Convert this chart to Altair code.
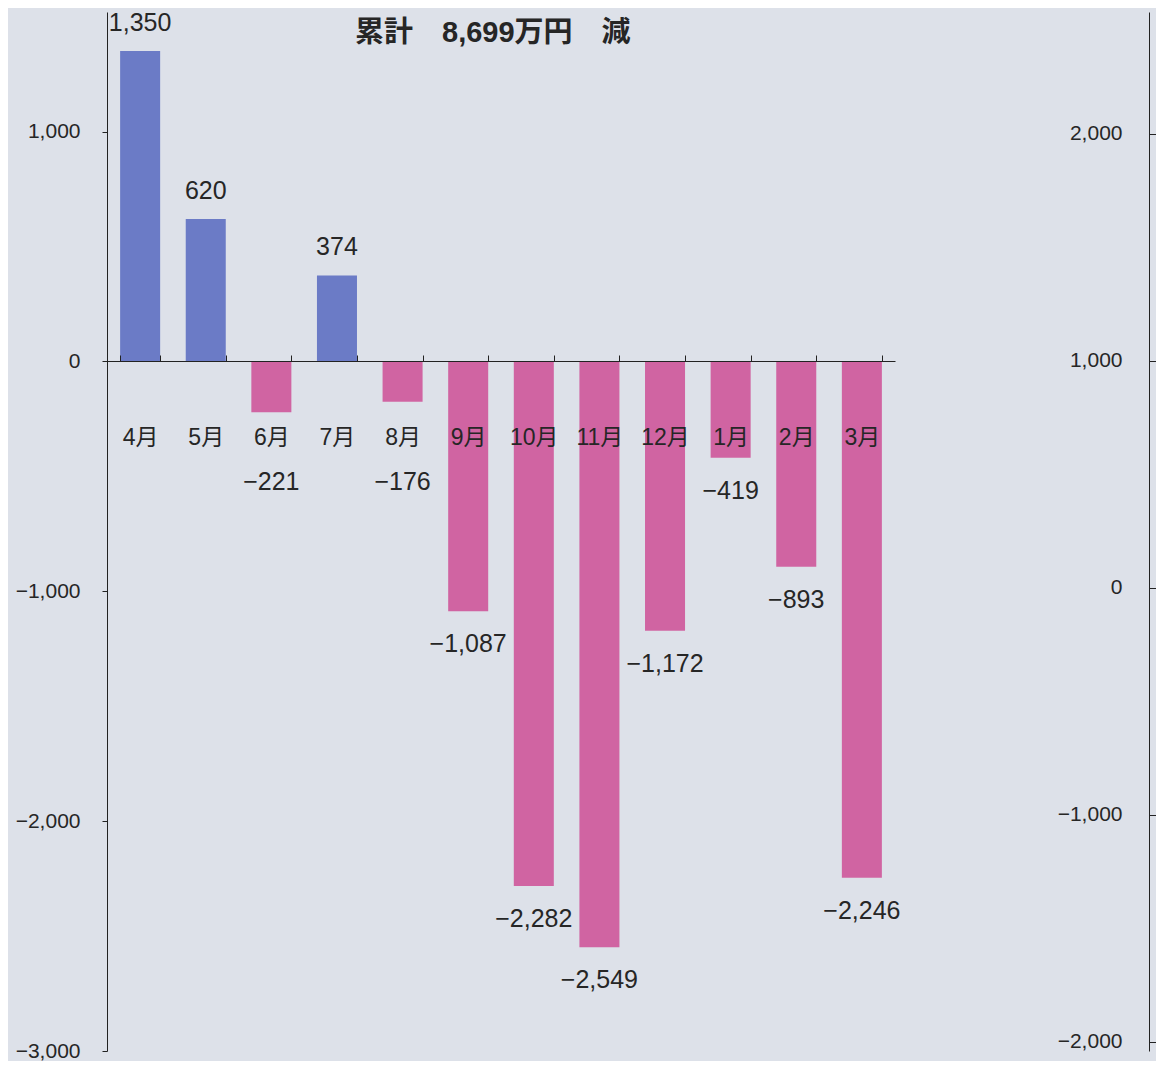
import altair as alt
import pandas as pd

months = ["4月", "5月", "6月", "7月", "8月", "9月", "10月", "11月", "12月", "1月", "2月", "3月"]
values = [1350, 620, -221, 374, -176, -1087, -2282, -2549, -1172, -419, -893, -2246]
left_ticks = [-3000, -2000, -1000, 0, 1000]
right_ticks = [-2000, -1000, 0, 1000, 2000]
title_text = "累計\u30008,699万円\u3000減"

df = pd.DataFrame({"month": months, "value": values})

FONT = "Liberation Sans, Noto Sans CJK JP"
TXT = "#262626"
BLUE = "#6b7bc6"
PINK = "#d064a2"
BG = "#dde1e9"

W, H = 1042, 1039

xscale = alt.Scale(range=[0, 788], paddingInner=0.39, paddingOuter=0.2)
xenc = alt.X(
    "month:N", sort=months, title=None, scale=xscale,
    axis=alt.Axis(orient="top", offset=-349, tickBand="extent", tickSize=6,
                  tickColor="#222", domainColor="#222", domainWidth=1.2,
                  labelAngle=0, labelBaseline="middle", labelPadding=-82,
                  labelFontSize=23, labelFont=FONT, labelColor=TXT, grid=False,
                  zindex=2),
)


def lscale():
    return alt.Scale(domain=[-3000, 1520], nice=False, zero=False)


bars = alt.Chart(df).mark_bar().encode(
    x=xenc,
    y=alt.Y("value:Q", scale=lscale(), title=None,
            axis=alt.Axis(orient="left", values=left_ticks, format=",.0f", tickSize=5,
                          labelPadding=22, labelFontSize=21, labelFont=FONT,
                          labelColor=TXT, domainColor="#222", tickColor="#222",
                          grid=False)),
    color=alt.condition("datum.value > 0", alt.value(BLUE), alt.value(PINK)),
)

pos_text = alt.Chart(df).transform_filter("datum.value > 0").mark_text(
    dy=-28, baseline="middle", fontSize=25, font=FONT, color=TXT
).encode(
    x=alt.X("month:N", sort=months),
    y=alt.Y("value:Q", scale=lscale(), axis=None),
    text=alt.Text("value:Q", format=","),
)

neg_text = alt.Chart(df).transform_filter("datum.value < 0").transform_calculate(
    pos="min(datum.value, -380)"
).mark_text(
    dy=33, baseline="middle", fontSize=25, font=FONT, color=TXT
).encode(
    x=alt.X("month:N", sort=months),
    y=alt.Y("pos:Q", scale=lscale(), axis=None),
    text=alt.Text("value:Q", format=","),
)

right = alt.Chart(df).mark_point(opacity=0).encode(
    y=alt.Y("value:Q", title=None,
            scale=alt.Scale(domain=[-2040, 2537], nice=False, zero=False),
            axis=alt.Axis(orient="right", values=right_ticks, format=",.0f", tickSize=8,
                          labelAlign="right", labelPadding=-35, labelFontSize=21,
                          labelFont=FONT, labelColor=TXT, domainColor="#222",
                          tickColor="#222", grid=False)),
)

chart = alt.layer(bars, pos_text, neg_text, right).resolve_scale(y="independent").properties(
    width=W, height=H,
    title=alt.TitleParams(title_text, anchor="start", frame="group", dx=248, dy=51,
                          offset=0, baseline="middle", fontSize=29, font=FONT,
                          fontWeight="bold", color=TXT),
    autosize=alt.AutoSizeParams(type="none"),
    padding={"left": 99, "top": 4, "right": 7, "bottom": 10},
    background=BG,
).configure_view(stroke=None)

chart.save("out.html", embed_options={"renderer": "svg", "actions": False})
